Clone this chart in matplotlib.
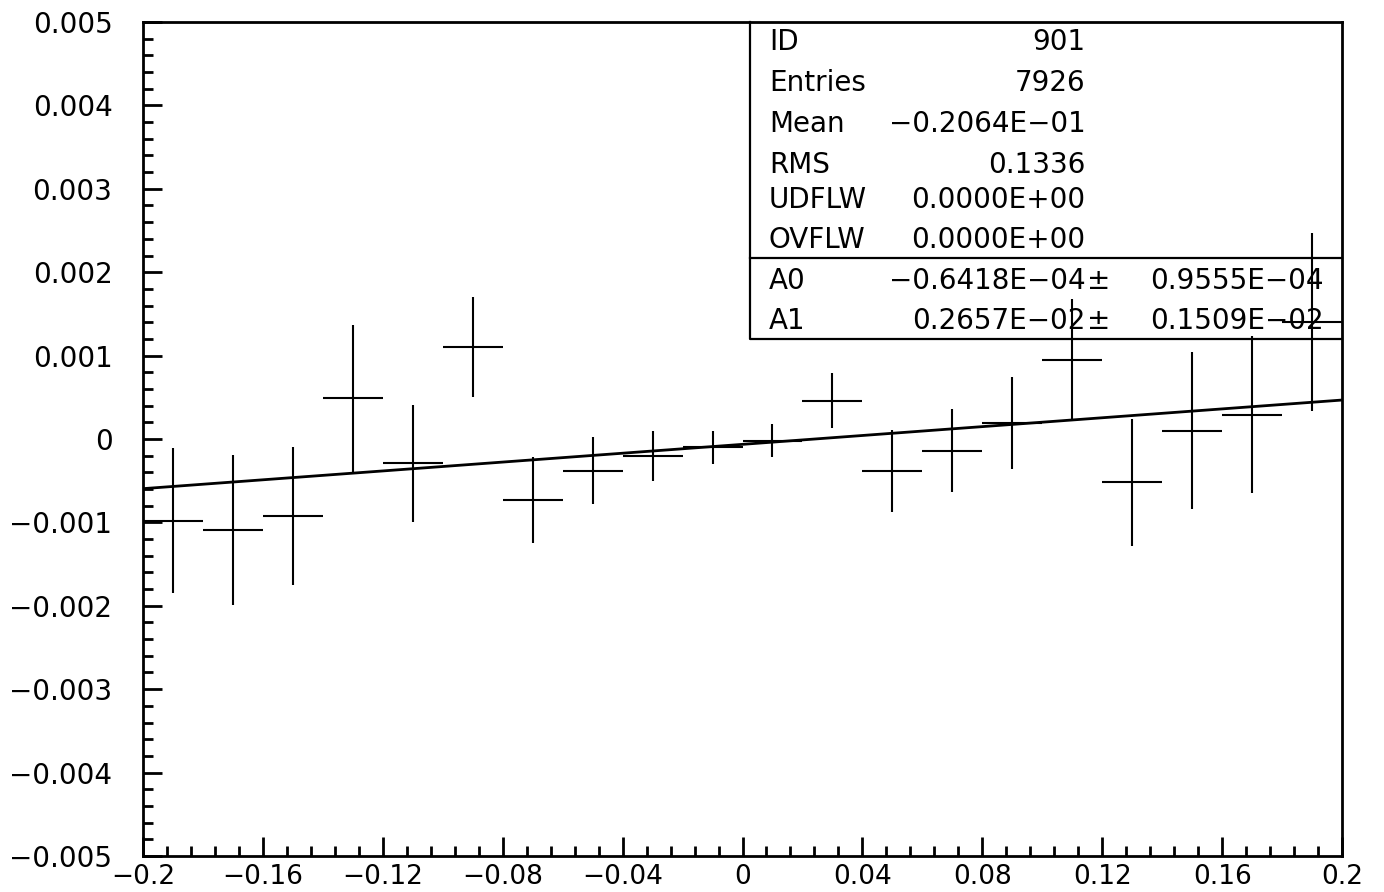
import numpy as np
import matplotlib.pyplot as plt
from matplotlib.ticker import MultipleLocator, FixedLocator

# histogram 901: bin contents and errors, 20 bins on [-0.2, 0.2]
bin_centers = np.round(np.arange(-0.19, 0.2, 0.02), 3)
contents = np.array([-0.00098, -0.00109, -0.00092, 0.00049, -0.00029,
                     0.00110, -0.00073, -0.00038, -0.00020, -0.00010,
                     -0.00002, 0.00046, -0.00038, -0.00014, 0.00019,
                     0.00095, -0.00052, 0.00010, 0.00029, 0.00140])
errors = np.array([0.00087, 0.00090, 0.00083, 0.00088, 0.00070,
                   0.00060, 0.00052, 0.00040, 0.00030, 0.00020,
                   0.00020, 0.00033, 0.00049, 0.00050, 0.00055,
                   0.00073, 0.00076, 0.00094, 0.00094, 0.00107])
bin_half = 0.01

# straight-line fit parameters
A0, A0_err = -0.6418e-04, 0.9555e-04
A1, A1_err = 0.2657e-02, 0.1509e-02

stats_labels = ['ID', 'Entries', 'Mean', 'RMS', 'UDFLW', 'OVFLW']
stats_values = ['901', '7926', '\u22120.2064E\u221201', '0.1336',
                '0.0000E+00', '0.0000E+00']
fit_labels = ['A0', 'A1']
fit_values = ['\u22120.6418E\u221204', '0.2657E\u221202']
fit_errors = ['0.9555E\u221204', '0.1509E\u221202']

plt.rcParams['font.family'] = 'DejaVu Sans'

fig = plt.figure(figsize=(13.84, 8.92), dpi=100)
ax = fig.add_axes([0.1033, 0.0404, 0.8664, 0.9349])

ax.errorbar(bin_centers, contents, xerr=bin_half, yerr=errors, fmt='none',
            ecolor='black', elinewidth=1.5, capsize=0)

xfit = np.linspace(-0.2, 0.2, 2)
ax.plot(xfit, A0 + A1 * xfit, color='black', lw=2.0)

ax.set_xlim(-0.2, 0.2)
ax.set_ylim(-0.005, 0.005)

for side in ['left', 'right', 'top', 'bottom']:
    ax.spines[side].set_linewidth(2.0)

ax.xaxis.set_major_locator(FixedLocator(np.round(np.arange(-0.2, 0.201, 0.04), 3)))
ax.xaxis.set_minor_locator(MultipleLocator(0.008))
ax.yaxis.set_major_locator(MultipleLocator(0.001))
ax.yaxis.set_minor_locator(MultipleLocator(0.0002))


def xfmt(v):
    if abs(v) < 1e-9:
        return '0'
    return ('%g' % v).replace('-', '\u2212')


def yfmt(v):
    if abs(v) < 1e-9:
        return '0'
    return ('%.3f' % v).replace('-', '\u2212')


ax.set_xticklabels([xfmt(v) for v in ax.get_xticks()])
ax.set_yticklabels([yfmt(v) for v in ax.get_yticks()])

ax.tick_params(axis='both', which='both', direction='in', top=False, right=False,
               width=2.0)
ax.tick_params(axis='both', which='major', length=14)
ax.tick_params(axis='both', which='minor', length=7)
ax.tick_params(axis='y', which='major', pad=22, labelsize=20)
ax.tick_params(axis='x', which='major', pad=6, labelsize=19)

# statistics / fit box, drawn open over the data
box_left, box_bottom, box_sep = 0.506, 0.62, 0.717
trans = ax.transAxes
ax.plot([box_left, box_left, 1.0], [1.0, box_bottom, box_bottom], color='black',
        lw=1.6, transform=trans, clip_on=False)
ax.plot([box_left, 1.0], [box_sep, box_sep], color='black', lw=1.6,
        transform=trans, clip_on=False)

fs = 20
row_y = [0.976, 0.927, 0.878, 0.829, 0.787, 0.739]
for lab, val, y in zip(stats_labels, stats_values, row_y):
    ax.text(0.522, y, lab, transform=trans, fontsize=fs, va='center', ha='left')
    ax.text(0.786, y, val, transform=trans, fontsize=fs, va='center', ha='right')

fit_y = [0.689, 0.641]
for lab, val, err, y in zip(fit_labels, fit_values, fit_errors, fit_y):
    ax.text(0.522, y, lab, transform=trans, fontsize=fs, va='center', ha='left')
    ax.text(0.786, y, val, transform=trans, fontsize=fs, va='center', ha='right')
    ax.text(0.797, y, '\u00b1', transform=trans, fontsize=fs, va='center', ha='center')
    ax.text(0.985, y, err, transform=trans, fontsize=fs, va='center', ha='right')

fig.savefig('out.png', dpi=100, facecolor='white')
